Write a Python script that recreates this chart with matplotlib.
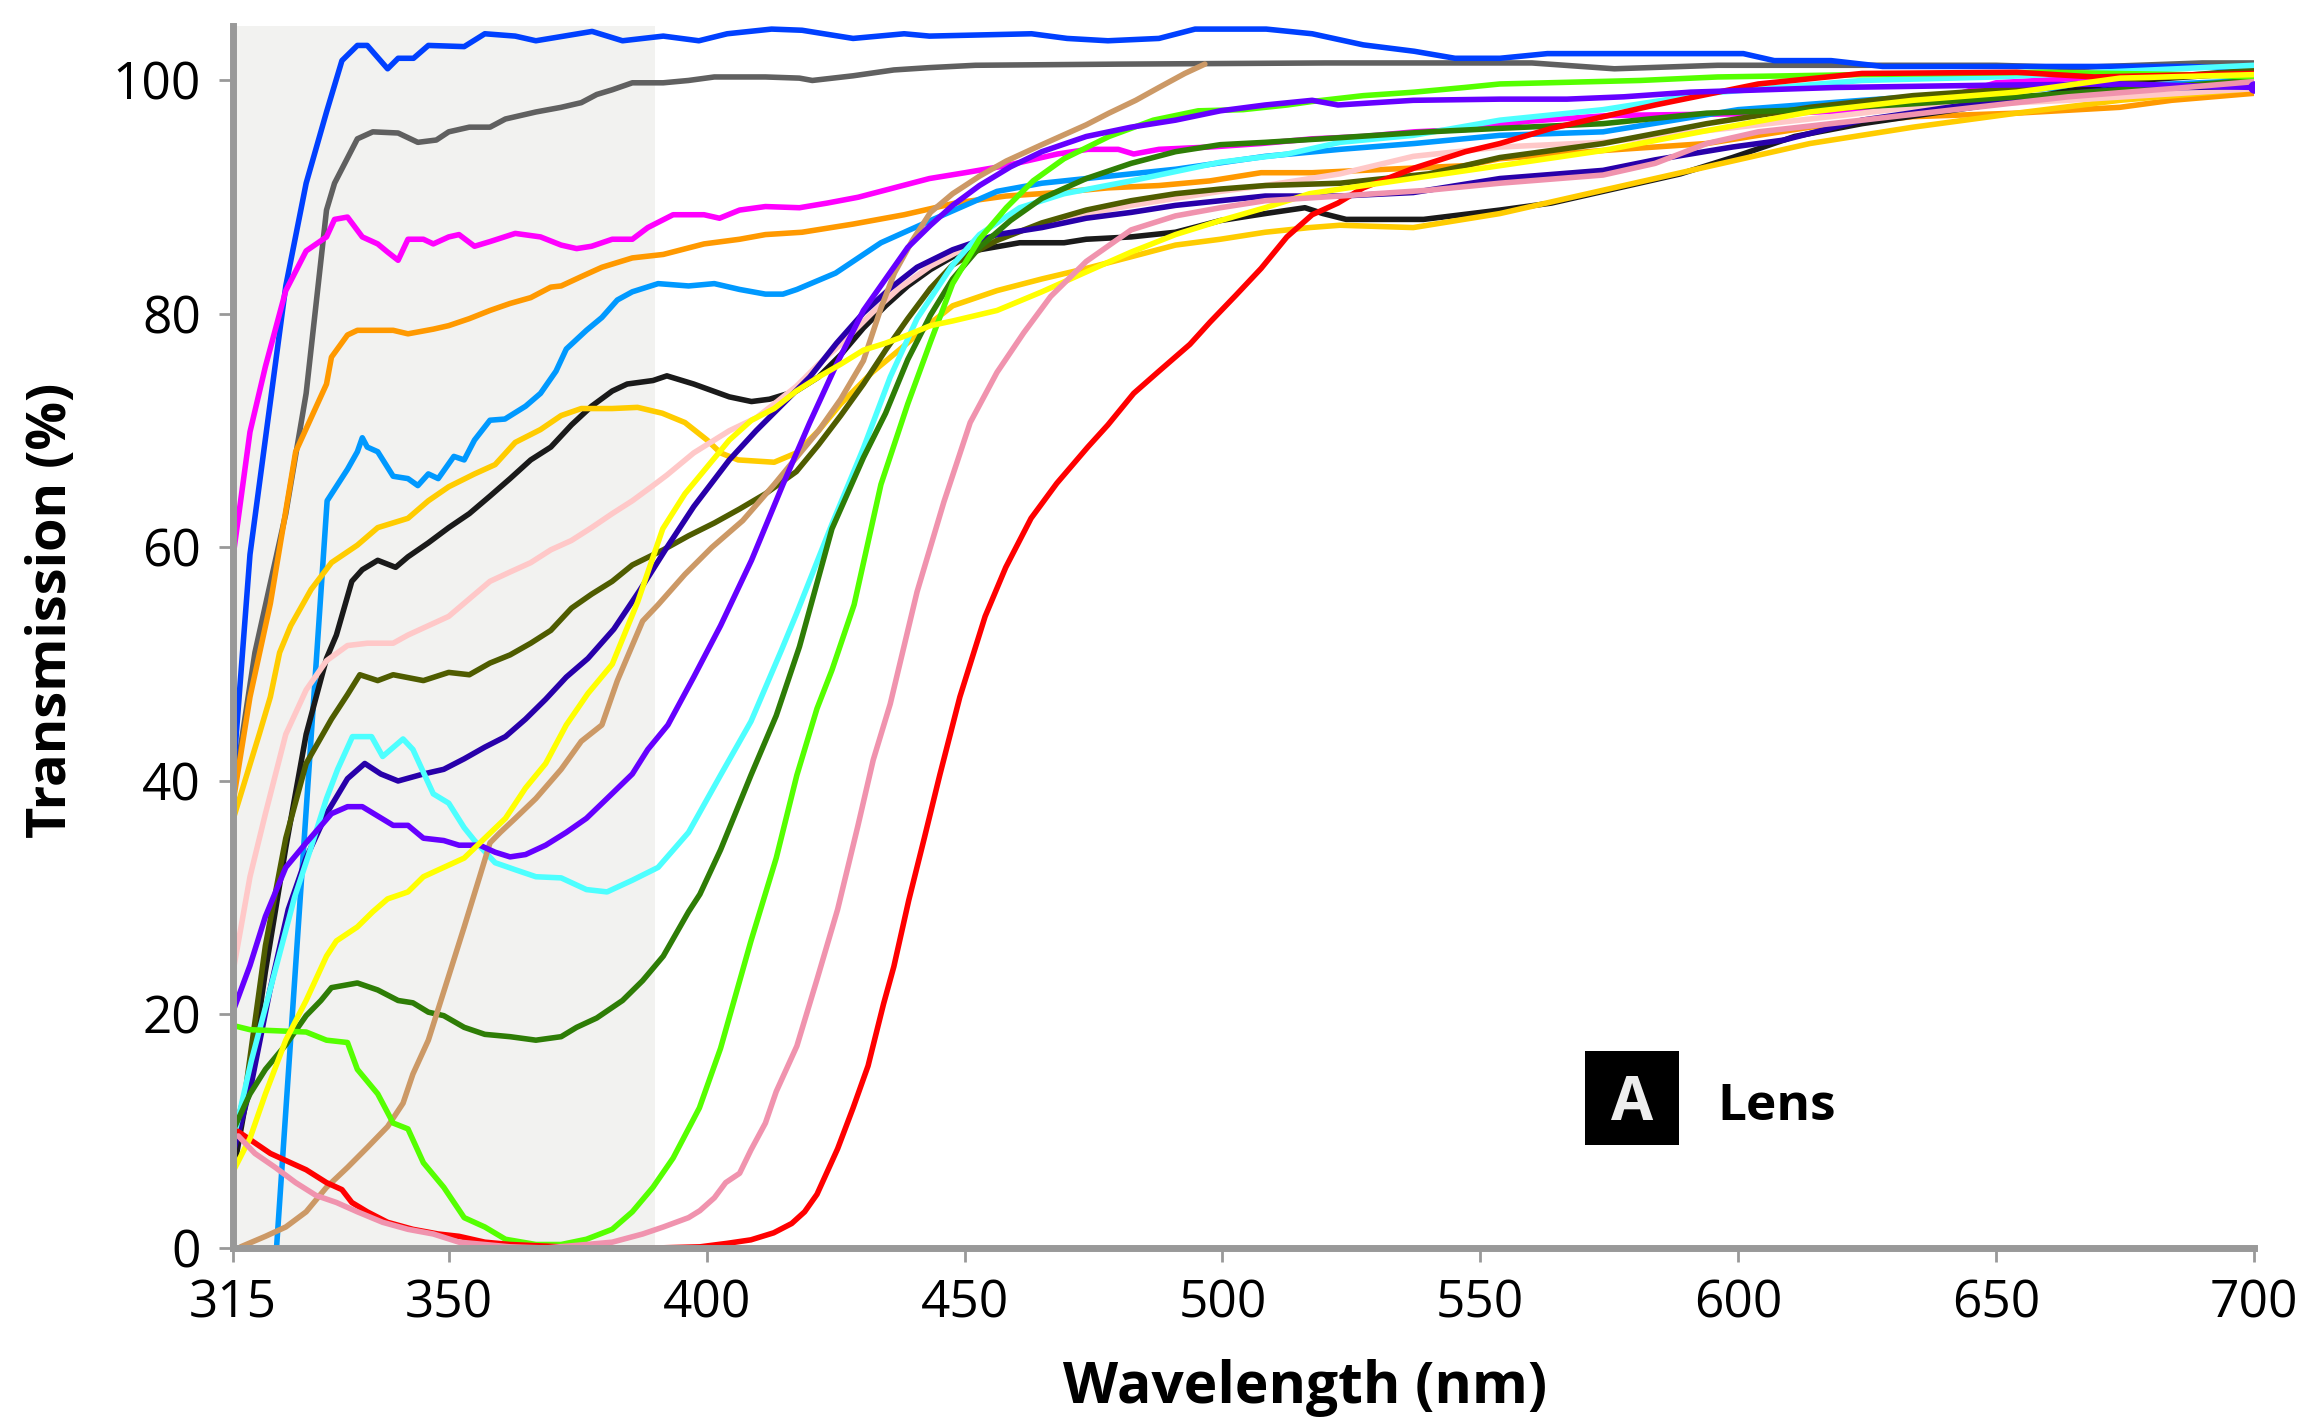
import numpy as np
import matplotlib
matplotlib.use("Agg")
import matplotlib.pyplot as plt
from matplotlib.patches import Rectangle

plt.rcParams['font.family'] = ['Open Sans', 'DejaVu Sans']

# ---------------- data (wavelength nm, transmission %) ----------------
blue_nm = [315, 317.8, 323.6, 326.9, 330.2, 332.7, 335.2, 336.8, 340.1, 341.8, 344.3, 346.7, 353, 357, 362.9, 366.9, 377.8, 383.7, 391.6, 398.5, 404, 412.6, 418.5, 428.4, 438.3, 443.2, 463, 469.9, 477.8, 487.7, 494.7, 502.6, 508.5, 517.4, 527.3, 537.2, 545.1, 553.8, 563, 575, 590, 601, 607, 618, 628, 650, 687, 700]
blue_T = [40, 59.4, 82.4, 91.2, 97.3, 101.7, 103, 103, 101, 101.9, 101.9, 103, 102.9, 104, 103.8, 103.4, 104.2, 103.4, 103.8, 103.4, 104, 104.4, 104.3, 103.6, 104, 103.8, 104, 103.6, 103.4, 103.6, 104.4, 104.4, 104.4, 104, 103.05, 102.5, 101.9, 101.9, 102.3, 102.3, 102.3, 102.3, 101.7, 101.7, 101.2, 101.2, 101.2, 101]

gray_nm = [315, 318.6, 323.6, 326.9, 330.2, 331.5, 335.2, 337.7, 341.8, 345, 348, 350, 354, 358, 361, 366.9, 371.8, 375.7, 378.7, 381.7, 385.6, 391.6, 396.5, 401.5, 411.4, 418, 420.5, 428.4, 436.3, 443.2, 452.1, 480, 520, 560, 576, 596, 620, 650, 665, 690, 700]
gray_T = [38.5, 51, 62.9, 73.2, 88.9, 91.2, 95, 95.6, 95.5, 94.7, 94.9, 95.6, 96, 96, 96.7, 97.3, 97.7, 98.1, 98.8, 99.2, 99.8, 99.8, 100, 100.3, 100.3, 100.2, 100, 100.4, 100.9, 101.1, 101.3, 101.4, 101.5, 101.5, 101, 101.3, 101.3, 101.3, 101.1, 101.5, 101.5]

magenta_nm = [315, 317.8, 320.3, 323.6, 326.9, 330.2, 331.5, 333.6, 336, 338.5, 340.1, 341.8, 343.4, 345.9, 347.5, 350, 352, 355, 358, 362.9, 367.8, 371.8, 374.8, 377.7, 381.7, 385.6, 388.6, 393.5, 399.5, 402.5, 406.4, 411.4, 418, 423.4, 429.4, 436.3, 443.2, 450.1, 458, 468, 473.9, 479.8, 482.8, 487.7, 497.6, 507.5, 517.4, 527.3, 537.2, 547.1, 553.8, 559, 575, 610, 625, 640, 650, 670, 700]
magenta_T = [59, 69.9, 75.5, 82, 85.4, 86.6, 88.1, 88.3, 86.6, 86, 85.3, 84.6, 86.4, 86.4, 86, 86.6, 86.8, 85.8, 86.2, 86.9, 86.6, 85.9, 85.6, 85.8, 86.4, 86.4, 87.4, 88.5, 88.5, 88.2, 88.9, 89.2, 89.1, 89.5, 90, 90.8, 91.6, 92.1, 92.7, 93.7, 94.1, 94.1, 93.7, 94.1, 94.3, 94.6, 95, 95.2, 95.6, 95.8, 96.2, 96.5, 97, 97.2, 97.5, 98.5, 99.8, 100.3, 100.5]

orange_nm = [315, 317.8, 321.1, 325.2, 330.2, 331, 333.6, 335.2, 341, 343.4, 347.5, 350, 354, 358, 361.9, 365.9, 369.8, 371.8, 375.7, 379.7, 385.6, 391.6, 399.5, 406.4, 411.4, 418.5, 428.4, 438.3, 448.2, 458, 468, 477.8, 487.7, 497.6, 507.5, 517.4, 527.3, 537.2, 547.1, 553.8, 573.8, 593.9, 613.9, 633.9, 654, 674, 684, 700]
orange_T = [38, 47.2, 55.2, 68.2, 74, 76.3, 78.2, 78.6, 78.6, 78.3, 78.7, 79, 79.6, 80.3, 80.9, 81.4, 82.3, 82.4, 83.2, 84, 84.8, 85.1, 86, 86.4, 86.8, 87, 87.7, 88.5, 89.5, 90.1, 90.4, 90.8, 91, 91.4, 92.1, 92.1, 92.3, 92.5, 92.7, 93.3, 94, 94.6, 96, 96.9, 97.2, 97.7, 98.3, 98.9]

ltblue_nm = [322.1, 330.3, 333.6, 335.2, 336, 336.8, 338.5, 341, 343.4, 345, 346.7, 348.3, 351, 353, 355, 358, 360.9, 364.9, 367.8, 370.8, 372.8, 376.7, 379.7, 382.7, 385.6, 390.6, 396.5, 401.5, 406.4, 411.4, 414.8, 417.5, 425, 433.8, 443.4, 456.3, 465, 473.6, 491, 508.3, 522.8, 537.2, 553.8, 573.8, 600, 624, 654, 684, 700]
ltblue_T = [0, 64, 66.7, 68.2, 69.4, 68.6, 68.2, 66.1, 65.9, 65.3, 66.3, 65.9, 67.8, 67.5, 69.2, 70.9, 71, 72.1, 73.2, 75.1, 77, 78.6, 79.7, 81.2, 81.9, 82.6, 82.4, 82.6, 82.1, 81.7, 81.7, 82.1, 83.5, 86.1, 88, 90.5, 91.2, 91.6, 92.4, 93.5, 94.1, 94.6, 95.3, 95.6, 97.5, 98.3, 99.2, 99.7, 100]

cyan_nm = [315, 318, 321, 325, 327.5, 330.2, 332, 334.4, 337.5, 339.3, 342.6, 344.2, 347.5, 350, 353, 355, 359, 362.9, 366.9, 371.8, 376.7, 380.7, 385.6, 390.6, 396.5, 402.7, 408.6, 414.5, 417.4, 424.3, 430.4, 435.6, 440.8, 447.7, 452.9, 460.7, 469.3, 482.3, 499.6, 512.6, 522.8, 537, 553.8, 573.8, 593.9, 624, 650, 700]
cyan_T = [9, 16, 22, 30, 34, 38.5, 41, 43.8, 43.8, 42.1, 43.6, 42.7, 38.9, 38.1, 36, 34.9, 33, 32.4, 31.8, 31.7, 30.7, 30.5, 31.5, 32.6, 35.6, 40.5, 45.1, 51.2, 54.3, 62, 68.5, 74.6, 79.6, 84.2, 86.8, 89.1, 90.3, 91.4, 93, 93.7, 94.7, 95.3, 96.6, 97.5, 98.9, 100, 100.3, 101.3]

black_nm = [315, 317.8, 320.3, 323.6, 326.9, 330.2, 331.8, 334.3, 336, 338.5, 341.4, 343.4, 346.7, 350, 354, 358, 361.9, 365.9, 369.8, 373.8, 377.7, 381.7, 384.6, 389.6, 392.3, 397.5, 404.4, 408.7, 412.2, 417.4, 421.7, 426, 430.4, 434.7, 439, 443.4, 447.7, 452.9, 460.7, 469.3, 473.6, 482.3, 490.9, 499.6, 508.3, 516, 519.5, 524, 539, 553.8, 563.8, 588.8, 598.9, 610.9, 624, 650, 674, 700]
black_T = [6.2, 14.5, 23.7, 34.3, 44, 50.5, 52.5, 57.1, 58.1, 58.9, 58.3, 59.2, 60.4, 61.7, 62.9, 64.4, 65.9, 67.5, 68.6, 70.5, 72.1, 73.4, 74, 74.3, 74.7, 74, 72.9, 72.5, 72.7, 73.4, 74.6, 76.5, 78.8, 80.7, 82.4, 83.8, 84.9, 85.5, 86.1, 86.1, 86.4, 86.6, 87, 88, 88.6, 89.1, 88.6, 88.1, 88.1, 88.9, 89.5, 92, 93.4, 95.2, 96.3, 98, 99.9, 100.7]

gold_nm = [315, 319.3, 321.1, 322.6, 324.4, 327.7, 331, 335.2, 338.5, 343.4, 346.7, 350, 355, 359, 362.9, 367.8, 371.8, 375.7, 381.7, 386.6, 391.4, 395.8, 400.1, 402.7, 406.1, 413.1, 417.4, 421.7, 426, 432.1, 437.3, 443.4, 447.7, 456.3, 465, 473.6, 482.3, 490.9, 499.6, 508.3, 516.9, 522.8, 537, 553.8, 573.8, 593.9, 613.9, 633.9, 654, 674, 700]
gold_T = [36.6, 44, 47.2, 51, 53.3, 56.4, 58.7, 60.2, 61.7, 62.5, 64, 65.2, 66.3, 67.1, 69, 70.1, 71.3, 71.9, 71.9, 72, 71.5, 70.7, 69.2, 68.1, 67.5, 67.3, 68.1, 70, 72.3, 75, 76.9, 79.2, 80.7, 82, 83, 83.9, 84.9, 85.9, 86.4, 87, 87.4, 87.6, 87.4, 88.6, 90.6, 92.6, 94.6, 96, 97.2, 98.3, 99.3]

ltpink_nm = [315, 317.8, 320.3, 323.6, 326.9, 330.2, 333.6, 336.8, 341, 343.4, 346.7, 350, 354, 358, 361.9, 365.9, 369.8, 373.8, 377.7, 381.7, 385.6, 389.6, 392.3, 397.5, 404.4, 409.6, 413.1, 417.4, 421.7, 426, 432.1, 437.3, 443.4, 449.4, 456.3, 465, 473.6, 482.3, 490.9, 499.6, 508.3, 522.8, 537, 553.8, 573.8, 603.9, 633.9, 664, 700]
ltpink_T = [23.5, 31.8, 37.2, 44, 47.8, 50.3, 51.6, 51.8, 51.8, 52.5, 53.3, 54.1, 55.6, 57.1, 57.9, 58.7, 59.8, 60.6, 61.7, 62.9, 64, 65.3, 66.2, 68.1, 70, 71.1, 72.3, 73.8, 75.7, 77.4, 80.1, 82.2, 84.1, 85.5, 86.6, 87.6, 88.6, 89.3, 89.9, 90.5, 91, 92, 93.5, 94.3, 94.7, 96.2, 97.7, 98.3, 99.3]

olive_nm = [315, 317, 320.3, 323.6, 326.9, 331, 333.6, 335.6, 338.5, 341, 345.9, 350, 354, 358, 361.9, 365.9, 369.8, 373.8, 377.7, 381.7, 385.6, 391.6, 396.5, 401.5, 406.4, 411.4, 417.4, 421.7, 426, 430.4, 434.7, 439, 443.4, 447.7, 452, 456.3, 465, 473.6, 482.3, 490.9, 499.6, 508.3, 522.8, 540, 553.8, 573.8, 593.9, 613.9, 633.9, 654, 674, 700]
olive_T = [9.5, 13.2, 25.9, 35.1, 41.5, 45.3, 47.4, 49.1, 48.6, 49.1, 48.6, 49.3, 49.1, 50.1, 50.8, 51.8, 52.9, 54.8, 56, 57.1, 58.5, 59.8, 61, 62.1, 63.3, 64.6, 66.5, 68.8, 71.3, 74, 76.9, 79.6, 82.2, 84.2, 85.3, 86.3, 87.8, 88.9, 89.7, 90.3, 90.7, 91, 91.2, 92, 93.4, 94.6, 96.3, 97.7, 98.7, 99.3, 100, 100.9]

indigo_nm = [315, 318, 321, 324, 326.9, 330.2, 333.6, 336.4, 339, 341.8, 345.9, 349.2, 353, 357, 361, 364.9, 368.8, 372.8, 377, 382, 387, 392, 397.5, 404.4, 409.6, 414.8, 420, 425.2, 430.4, 435.6, 440.8, 447.7, 456.3, 465, 473.6, 482.3, 490.9, 499.6, 508.3, 522.8, 537, 553.8, 573.8, 583.9, 598.9, 608.9, 624, 650, 674, 700]
indigo_T = [8, 14, 22, 29, 33.4, 37.2, 40.2, 41.5, 40.6, 40, 40.6, 41, 41.9, 42.9, 43.8, 45.3, 47, 48.9, 50.5, 53, 56.3, 59.8, 63.5, 67.5, 70, 72.3, 74.6, 77.5, 80.1, 82.2, 84, 85.5, 86.8, 87.4, 88.2, 88.7, 89.3, 89.7, 90.1, 90.1, 90.4, 91.6, 92.3, 93.2, 94.3, 94.9, 96.6, 98.3, 99.3, 99.5]

purple_nm = [315, 317.8, 320.3, 323.6, 326.9, 331, 333.6, 336, 338.5, 341, 343.4, 345.9, 349.2, 352, 356, 359, 361.9, 364.9, 368.8, 372.8, 376.7, 380.7, 385.6, 388.6, 392.5, 397.5, 402.7, 408.7, 414.8, 420, 425.2, 430.4, 434.7, 439, 443.4, 447.7, 452.9, 458.9, 465, 473.6, 482.3, 490.9, 499.6, 508.3, 517.4, 522.4, 537, 553.8, 566.8, 577.8, 590.8, 619, 650, 674, 700]
purple_T = [20.2, 24.2, 28.4, 32.6, 34.7, 37.2, 37.8, 37.8, 37, 36.2, 36.2, 35.1, 34.9, 34.5, 34.5, 33.9, 33.5, 33.7, 34.5, 35.6, 36.8, 38.5, 40.6, 42.7, 44.8, 48.9, 53.3, 58.9, 65.4, 70.7, 75.7, 80.3, 83, 85.7, 87.6, 89.3, 91, 92.6, 93.9, 95.2, 96, 96.6, 97.4, 97.9, 98.3, 97.9, 98.3, 98.4, 98.4, 98.6, 99, 99.4, 99.6, 99.7, 99.4]

dkgreen_nm = [315, 317.8, 320.3, 323.6, 326.9, 329.3, 331, 335.2, 338.5, 341.8, 344.2, 346.7, 349.2, 353, 357, 361.9, 366.9, 371.8, 374.8, 378.7, 383.7, 387.6, 391.6, 396.5, 398.7, 402.7, 408.6, 413.5, 418, 424.3, 430.4, 434.7, 439, 443.4, 447.7, 452.9, 458.9, 465, 473.6, 482.3, 490.9, 499.6, 508.3, 522.8, 540, 553.8, 573.8, 593.9, 613.9, 633.9, 654, 674, 700]
dkgreen_T = [10, 13.2, 15.3, 17.4, 19.9, 21.2, 22.3, 22.7, 22.1, 21.2, 21, 20.2, 19.9, 18.9, 18.3, 18.1, 17.8, 18.1, 18.9, 19.7, 21.2, 22.9, 25, 28.8, 30.3, 34.1, 40.5, 45.6, 51.5, 61.6, 67.7, 71.5, 76.1, 79.9, 83, 85.7, 88, 89.9, 91.6, 92.9, 93.9, 94.5, 94.7, 95.1, 95.6, 95.9, 96.3, 97.2, 97.5, 98, 98.6, 99.2, 100]

green_nm = [315.5, 317.8, 326.9, 330.2, 333.6, 335.2, 338.5, 341, 343.4, 345.9, 349.2, 353, 357, 361, 366.9, 371.8, 376.7, 381.7, 385.6, 389.6, 393.5, 398.6, 402.7, 408.6, 413.5, 417.5, 421.4, 424.3, 428.6, 433.8, 439, 443.4, 447.7, 452.9, 458.1, 463.3, 469.3, 478, 486.6, 495.3, 504, 512.6, 517.4, 527.3, 537.2, 547, 553.8, 563, 581, 596, 624, 659, 687, 700]
green_T = [19, 18.7, 18.5, 17.8, 17.6, 15.3, 13.2, 10.7, 10.2, 7.3, 5.2, 2.6, 1.8, 0.75, 0.3, 0.3, 0.75, 1.6, 3.1, 5.2, 7.7, 12, 17.1, 26.3, 33.4, 40.5, 46.2, 49.5, 55.1, 65.4, 72.3, 77.6, 82.6, 86.4, 89.1, 91.4, 93.3, 95.2, 96.6, 97.4, 97.5, 97.9, 98.2, 98.7, 99, 99.4, 99.7, 99.8, 100, 100.3, 100.5, 100.7, 100.5, 100.3]

tan_nm = [316.3, 320.3, 323.6, 326.9, 330.2, 333.6, 336.8, 340.1, 342.6, 344.2, 346.7, 350, 353, 356, 358, 360, 362.9, 366.9, 371.8, 375.7, 379.7, 382.7, 385, 387.6, 390.6, 395.8, 401, 407, 413.1, 417.4, 421.7, 426, 430.4, 433.8, 436.4, 439.9, 443.4, 447.7, 452.9, 458.1, 465, 473.6, 478, 483.2, 487.7, 492.7, 496.6]
tan_T = [0.1, 1, 1.8, 3.1, 5.2, 6.9, 8.6, 10.4, 12.4, 14.9, 17.8, 23.3, 27.5, 31.8, 34.7, 35.6, 36.8, 38.5, 41, 43.4, 44.8, 48.6, 51, 53.7, 55.1, 57.7, 60, 62.3, 65.4, 67.7, 70, 72.7, 76, 80.5, 83.5, 86.3, 88.7, 90.3, 91.8, 93.1, 94.5, 96.2, 97.2, 98.3, 99.4, 100.6, 101.4]

red_nm = [315.8, 318.6, 321.1, 324.4, 326.9, 330.2, 332.7, 334.3, 336.8, 340.1, 344.2, 348.3, 352, 357, 361.9, 366.9, 371.8, 380, 390, 398.7, 404, 408.6, 413, 416.5, 419, 421.4, 425.4, 428.4, 431.3, 434.3, 436.3, 439.2, 442.2, 445.2, 449.1, 454, 458, 462.9, 467.9, 473.9, 477.8, 482.8, 487.7, 493.7, 497.6, 502.6, 507.5, 512.5, 517.4, 522.4, 527.3, 537.2, 547.1, 553.8, 563.8, 583.9, 603.9, 624, 654, 669, 700]
red_T = [10, 9, 8.1, 7.3, 6.7, 5.6, 5, 3.9, 3.1, 2.2, 1.6, 1.2, 1, 0.5, 0.3, 0.2, 0.1, 0, 0, 0.1, 0.4, 0.7, 1.3, 2.1, 3.1, 4.6, 8.5, 12, 15.6, 20.9, 24.1, 29.8, 35.1, 40.5, 47.2, 54.1, 58.3, 62.5, 65.5, 68.6, 70.5, 73.2, 75.1, 77.4, 79.3, 81.6, 83.9, 86.6, 88.5, 89.5, 90.8, 92.5, 93.9, 94.6, 95.9, 97.9, 99.7, 100.6, 100.7, 100.3, 100.6]

pink_nm = [315.9, 318.6, 321.9, 325.2, 328.5, 331.8, 335.2, 339.3, 343.4, 347.5, 352, 357, 361.9, 368.8, 376.7, 381.7, 387.6, 391.6, 396.5, 398.7, 401.5, 403.7, 406.4, 408.6, 411.4, 413.5, 417.5, 421.4, 425.4, 429.3, 432.3, 435.6, 440.8, 446, 451.1, 456.3, 461.5, 466.7, 473.6, 482.3, 490.9, 499.6, 508.3, 522.8, 540, 553.8, 573.8, 583.9, 593.9, 603.9, 624, 644, 664, 684, 700]
pink_T = [9.6, 8.1, 6.9, 5.6, 4.5, 3.9, 3.1, 2.2, 1.6, 1.2, 0.5, 0.3, 0.1, 0, 0.3, 0.5, 1.2, 1.8, 2.6, 3.2, 4.3, 5.6, 6.4, 8.4, 10.7, 13.4, 17.3, 23, 29, 36.1, 41.8, 46.6, 56.2, 63.9, 70.7, 75, 78.4, 81.5, 84.5, 87.2, 88.4, 89.1, 89.7, 90.1, 90.6, 91.2, 91.9, 92.9, 94.6, 95.6, 96.6, 97.6, 98.6, 99.3, 99.9]

yellow_nm = [315, 317.8, 320.3, 323.6, 326.9, 330.2, 331.8, 335.2, 337.7, 340.1, 343.4, 345.9, 349.2, 353, 357, 361, 364.9, 368.8, 372.8, 377, 381.7, 386.6, 391.5, 395.8, 400.1, 404.4, 408.7, 413.1, 417.4, 421.7, 426, 430.4, 434.7, 439, 443.4, 447.7, 456.3, 465, 473.6, 482.3, 490.9, 499.6, 508.3, 516.9, 522.8, 553.8, 573.8, 593.9, 613.9, 633.9, 654, 674, 700]
yellow_T = [6.5, 9.4, 13.2, 17.8, 21.2, 25, 26.3, 27.5, 28.8, 29.9, 30.5, 31.8, 32.6, 33.4, 35.1, 36.8, 39.4, 41.5, 44.8, 47.5, 50, 55.3, 61.6, 64.6, 66.9, 69.2, 70.9, 71.9, 73.4, 74.6, 75.7, 76.9, 77.5, 78.2, 79, 79.4, 80.3, 81.9, 83.6, 85.3, 86.8, 88, 89.1, 90.3, 90.7, 92.7, 94, 95.7, 97.3, 98.3, 99, 100.2, 100.5]

x_ticks = [315, 350, 400, 450, 500, 550, 600, 650, 700]
y_ticks = [0, 20, 40, 60, 80, 100]

# ---------------- piecewise-linear wavelength axis ----------------
K1 = 216.0 / (5.158 * 35.0)
BRK = 35.0 * K1

def fwd(x):
    x = np.asarray(x, dtype=float)
    return np.where(x <= 350, (x - 315.0) * K1, BRK + (x - 350.0))

def inv(u):
    u = np.asarray(u, dtype=float)
    return np.where(u <= BRK, 315.0 + u / K1, 350.0 + (u - BRK))

fig = plt.figure(figsize=(23.1, 14.22), dpi=100)
ax = fig.add_axes([0.10074, 0.12236, 0.87502, 0.85907])
ax.set_xscale('function', functions=(fwd, inv))
ax.set_xlim(315, 700)
ax.set_ylim(0, 104.63)

ax.axvspan(315, 390, color='#f2f2f0', lw=0, zorder=0)

series = [
    (gray_nm, gray_T, '#606060'),
    (blue_nm, blue_T, '#0040ff'),
    (magenta_nm, magenta_T, '#ff00ff'),
    (orange_nm, orange_T, '#ff9900'),
    (ltblue_nm, ltblue_T, '#0099ff'),
    (black_nm, black_T, '#1a1a1a'),
    (gold_nm, gold_T, '#ffcc00'),
    (ltpink_nm, ltpink_T, '#ffc8c8'),
    (olive_nm, olive_T, '#4f5c00'),
    (indigo_nm, indigo_T, '#2800aa'),
    (cyan_nm, cyan_T, '#4dffff'),
    (dkgreen_nm, dkgreen_T, '#2e7d06'),
    (tan_nm, tan_T, '#cc9966'),
    (green_nm, green_T, '#55ff00'),
    (red_nm, red_T, '#ff0000'),
    (purple_nm, purple_T, '#6600ff'),
    (yellow_nm, yellow_T, '#ffff00'),
    (pink_nm, pink_T, '#f093ae'),
]
for i, (xs, ys, c) in enumerate(series):
    ax.plot(xs, ys, color=c, lw=4.0, solid_joinstyle='round',
            solid_capstyle='round', zorder=2 + i * 0.01)

# end dot of the purple curve
ax.plot(purple_nm, purple_T, color='#6600ff', lw=0, marker='o', ms=8,
        markevery=[len(purple_nm) - 1], zorder=2.3)

for s in ['top', 'right']:
    ax.spines[s].set_visible(False)
for s in ['left', 'bottom']:
    ax.spines[s].set_color('#999999')
    ax.spines[s].set_linewidth(5)
    ax.spines[s].set_zorder(3)

ax.set_xticks(x_ticks)
ax.set_xticklabels([str(v) for v in x_ticks])
ax.set_yticks(y_ticks)
ax.set_yticklabels([str(v) for v in y_ticks])
ax.minorticks_off()
ax.tick_params(axis='both', direction='out', length=10, width=2,
               color='#999999', labelsize=37, labelcolor='black')
ax.tick_params(axis='x', pad=12)
ax.tick_params(axis='y', pad=13)

fig.text(0.0225, 0.571, 'Transmission (%)', rotation=90, ha='center',
         va='center', fontsize=39, fontweight='bold')
fig.text(0.5648, 0.024, 'Wavelength (nm)', ha='center', va='center',
         fontsize=41, fontweight='bold')

fig.add_artist(Rectangle((1585 / 2310, 1 - 1145 / 1422), 94 / 2310, 94 / 1422,
                         transform=fig.transFigure, facecolor='black',
                         edgecolor='none'))
fig.text(1632 / 2310, 1 - 1120 / 1422, 'A', ha='center', va='baseline',
         color='#eeeeee', fontsize=44, fontweight='bold')
fig.text(1717 / 2310, 1 - 1120 / 1422, 'Lens', ha='left', va='baseline',
         color='black', fontsize=37, fontweight='bold')

fig.savefig('out.png', dpi=100, facecolor='white')
